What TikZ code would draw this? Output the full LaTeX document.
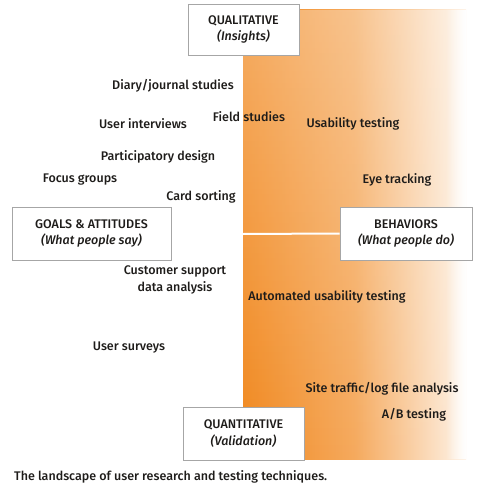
\documentclass[tikz,border=0pt]{standalone}
\usepackage{fontspec}
\setmainfont{Fira Sans}[UprightFont={* Medium}, ItalicFont={* Medium Italic}]
\usetikzlibrary{positioning,fadings}
\definecolor{deeporange}{RGB}{241,136,30}
\definecolor{inkgray}{RGB}{30,28,26}

\begin{document}
\begin{tikzpicture}[
  x=1pt, y=-1pt,
  font=\fontsize{12.5}{16.5}\selectfont, text=inkgray,
  axisbox/.style={draw=gray!70, fill=white, align=center, line width=0.6pt, inner sep=0pt},
  method/.style={align=center, inner sep=1pt},
  ]
  \useasboundingbox (0,0) rectangle (481,497);

  % shaded behaviour area
  \shade[left color=deeporange, right color=deeporange!10, middle color=deeporange!72] (243,10) rectangle (466,459);
  \fill[white, fill opacity=0.3, path fading=south] (243,10) rectangle (466,459);
  \fill[white, path fading=west] (446,10) rectangle (466,459);
  \coordinate (split) at (243,234);

  % axis boxes
  \node[axisbox, minimum width=111pt, minimum height=51pt] (qual) at (243.5,29.5) {QUALITATIVE\\\textit{(Insights)}};
  \node[axisbox, minimum width=159pt, minimum height=53pt] (goals) at (91.5,233.5) {GOALS \& ATTITUDES\\\textit{(What people say)}};
  \node[axisbox, minimum width=132pt, minimum height=53pt] (behav) at (406,233.5) {BEHAVIORS\\\textit{(What people do)}};
  \node[axisbox, minimum width=121pt, minimum height=53pt] (quant) at (243.5,433.5) {QUANTITATIVE\\\textit{(Validation)}};

  \draw[white, line width=2pt] (split) -- (behav.west);

  % methods
  \node[method] (diary) at (173,86) {Diary/journal studies};
  \node[method] (field) at (249,117) {Field studies};
  \node[method] (interv) at (143,124) {User interviews};
  \node[method] (usab) at (353,124) {Usability testing};
  \node[method] (partic) at (158,157) {Participatory design};
  \node[method] (focus) at (80,180) {Focus groups};
  \node[method] (eye) at (397,180) {Eye tracking};
  \node[method] (cards) at (201,197) {Card sorting};
  \node[method] (support) at (175,280) {Customer support\\data analysis};
  \node[method] (auto) at (327,297) {Automated usability testing};
  \node[method] (survey) at (129,348) {User surveys};
  \node[method] (traffic) at (382,389) {Site traffic/log file analysis};
  \node[method] (abtest) at (414,415) {A/B testing};

  % caption
  \node[anchor=west, inner sep=0pt] (caption) at (14,477) {The landscape of user research and testing techniques.};
\end{tikzpicture}
\end{document}
